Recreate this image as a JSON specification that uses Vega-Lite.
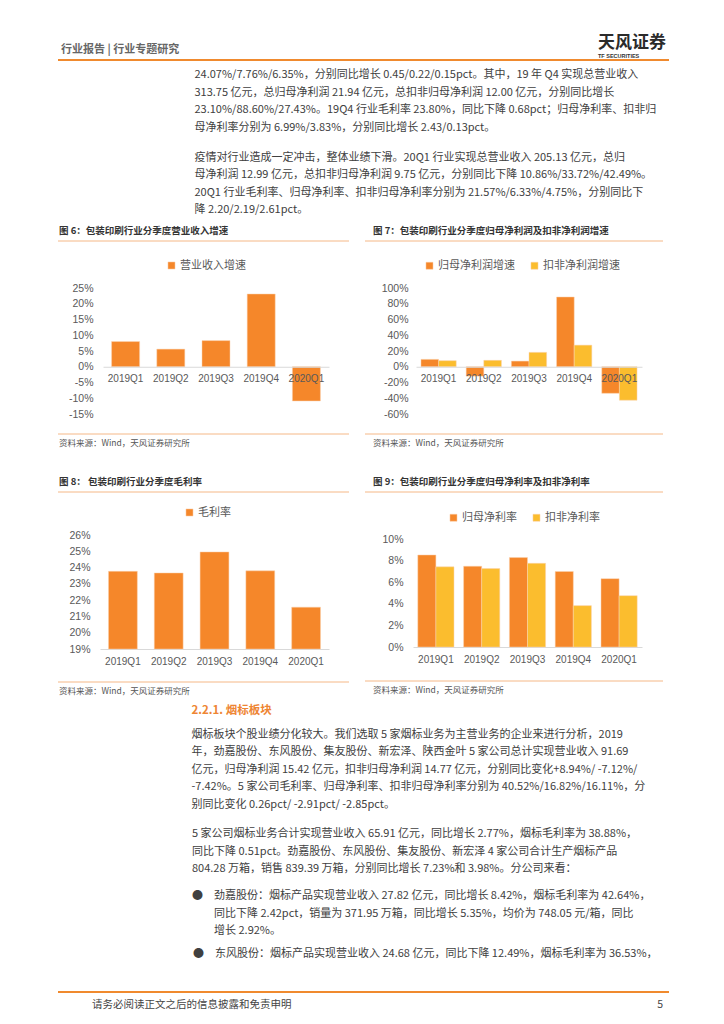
{
  "$schema": "https://vega.github.io/schema/vega-lite/v6.json",
  "padding": {"left": 57, "top": 0, "right": 0, "bottom": 0},
  "background": "white",
  "columns": 1,
  "align": "none",
  "spacing": 8,
  "resolve": {"scale": {"x": "independent", "y": "independent", "color": "independent", "xOffset": "independent"}, "legend": {"color": "independent"}},
  "config": {
    "view": {"stroke": null},
    "font": "Noto Sans CJK SC",
    "axis": {"labelFont": "Liberation Sans", "labelFontSize": 10.5, "labelColor": "#595959", "grid": false, "ticks": false, "tickSize": 0, "domain": false, "title": null},
    "legend": {"orient": "none", "direction": "horizontal", "title": null, "symbolType": "square", "symbolSize": 50, "symbolStrokeWidth": 0, "labelFont": "Noto Sans CJK SC", "labelFontSize": 11, "labelColor": "#595959", "labelOffset": 3, "columnPadding": 14, "padding": 0},
    "bar": {"stroke": "#FBD2B0", "strokeWidth": 0.5}
  },
  "concat": [
    {
      "width": 611,
      "height": 60,
      "data": {"values": [{"left": "行业报告 | 行业专题研究", "logo": "天风证券", "logoEn": "TF SECURITIES"}]},
      "layer": [
        {"mark": {"type": "rule", "color": "#F08A2E", "strokeWidth": 2},
         "encoding": {"y": {"datum": 0, "type": "quantitative", "scale": {"domain": [0, 1]}, "axis": null}}},
        {"mark": {"type": "text", "align": "left", "baseline": "middle", "dx": 3, "dy": -10, "fontSize": 11, "fontWeight": "bold", "color": "#666666"},
         "encoding": {"x": {"datum": 0, "type": "quantitative", "scale": {"domain": [0, 1]}, "axis": null}, "y": {"datum": 0, "type": "quantitative"}, "text": {"field": "left"}}},
        {"mark": {"type": "text", "align": "right", "baseline": "middle", "dx": -3, "dy": -17, "fontSize": 17, "fontWeight": "bold", "color": "#2B2B2B"},
         "encoding": {"x": {"datum": 1, "type": "quantitative"}, "y": {"datum": 0, "type": "quantitative"}, "text": {"field": "logo"}}},
        {"mark": {"type": "text", "align": "left", "baseline": "middle", "dx": -71, "dy": -4, "fontSize": 5.5, "font": "Liberation Sans", "fontWeight": "bold", "color": "#333333"},
         "encoding": {"x": {"datum": 1, "type": "quantitative"}, "y": {"datum": 0, "type": "quantitative"}, "text": {"field": "logoEn"}}}
      ]
    },
    {
      "columns": 1, "align": "none", "spacing": 18,
      "resolve": {"scale": {"x": "independent", "y": "independent", "color": "independent", "xOffset": "independent"}, "legend": {"color": "independent"}},
      "concat": [
        {
          "title": {
            "text": [
              "24.07%/7.76%/6.35%，分别同比增长 0.45/0.22/0.15pct。其中，19 年 Q4 实现总营业收入",
              "313.75 亿元，总归母净利润 21.94 亿元，总扣非归母净利润 12.00 亿元，分别同比增长",
              "23.10%/88.60%/27.43%。19Q4 行业毛利率 23.80%，同比下降 0.68pct；归母净利率、扣非归",
              "母净利率分别为 6.99%/3.83%，分别同比增长 2.43/0.13pct。"
            ],
            "subtitle": [
              "疫情对行业造成一定冲击，整体业绩下滑。20Q1 行业实现总营业收入 205.13 亿元，总归",
              "母净利润 12.99 亿元，总扣非归母净利润 9.75 亿元，分别同比下降 10.86%/33.72%/42.49%。",
              "20Q1 行业毛利率、归母净利率、扣非归母净利率分别为 21.57%/6.33%/4.75%，分别同比下",
              "降 2.20/2.19/2.61pct。"
            ],
            "anchor": "start", "dx": 137, "fontSize": 11, "fontWeight": "normal", "lineHeight": 17.5, "color": "#404040", "font": "Noto Sans CJK SC",
            "subtitleFont": "Noto Sans CJK SC", "subtitleFontSize": 11, "subtitleColor": "#404040", "subtitleLineHeight": 17.5, "subtitlePadding": 19, "offset": 8
          },
          "spacing": 14,
          "resolve": {"scale": {"x": "independent", "y": "independent", "color": "independent", "xOffset": "independent"}, "legend": {"color": "independent"}},
          "hconcat": [
            {
              "columns": 1, "align": "none", "spacing": 18,
              "resolve": {"scale": {"x": "independent", "y": "independent", "color": "independent", "xOffset": "independent"}, "legend": {"color": "independent"}},
              "concat": [
                {
                  "width": 291, "height": 18,
                  "data": {"values": [{"t": "图 6：包装印刷行业分季度营业收入增速"}]},
                  "layer": [
                    {"mark": {"type": "rule", "color": "#F5B887", "strokeWidth": 1},
                     "encoding": {"y": {"datum": 0, "type": "quantitative", "scale": {"domain": [0, 1]}, "axis": null}}},
                    {"mark": {"type": "text", "align": "left", "baseline": "middle", "dx": 1, "dy": 8, "fontSize": 9.5, "fontWeight": "bold", "color": "#333333"},
                     "encoding": {"x": {"datum": 0, "type": "quantitative", "scale": {"domain": [0, 1]}, "axis": null}, "y": {"datum": 1, "type": "quantitative"}, "text": {"field": "t"}}}
                  ]
                },
                {
                  "columns": 1, "align": "none", "spacing": 13,
                  "resolve": {"scale": {"x": "independent", "y": "independent", "color": "independent", "xOffset": "independent"}, "legend": {"color": "independent"}},
                  "concat": [
                    {
                      "width": 291, "height": 126,
                      "data": {"values": [
                        {"quarter": "2019Q1", "series": "营业收入增速", "value": 0.080},
                        {"quarter": "2019Q2", "series": "营业收入增速", "value": 0.056},
                        {"quarter": "2019Q3", "series": "营业收入增速", "value": 0.083},
                        {"quarter": "2019Q4", "series": "营业收入增速", "value": 0.2310},
                        {"quarter": "2020Q1", "series": "营业收入增速", "value": -0.1086}
                      ]},
                      "mark": {"type": "bar"},
                      "encoding": {
                        "x": {"field": "quarter", "type": "nominal", "sort": null, "scale": {"range": [45, 271], "paddingInner": 0.38, "paddingOuter": 0.19},
                              "axis": {"labelAngle": 0, "domain": true, "domainColor": "#D9D9D9", "offset": -47.25, "labelPadding": 7, "labelFontSize": 10, "zindex": 1}},
                        "y": {"field": "value", "type": "quantitative", "scale": {"domain": [-0.15, 0.25], "nice": false, "zero": false},
                              "axis": {"values": [-0.15, -0.1, -0.05, 0, 0.05, 0.1, 0.15, 0.2, 0.25], "format": ".0%", "labelExpr": "replace(datum.label, '−', '-')", "labelPadding": 10, "offset": -45}},
                        "color": {"field": "series", "type": "nominal", "scale": {"domain": ["营业收入增速"], "range": ["#F5872A"]},
                                  "legend": {"legendX": 108, "legendY": -28}}
                      }
                    },
                    {
                      "width": 291, "height": 22,
                      "data": {"values": [{"t": "资料来源：Wind，天风证券研究所"}]},
                      "layer": [
                        {"mark": {"type": "rule", "color": "#F5B887", "strokeWidth": 1},
                         "encoding": {"y": {"datum": 1, "type": "quantitative", "scale": {"domain": [0, 1]}, "axis": null}}},
                        {"mark": {"type": "text", "align": "left", "baseline": "middle", "dx": 1, "dy": 9, "fontSize": 8.5, "color": "#555555"},
                         "encoding": {"x": {"datum": 0, "type": "quantitative", "scale": {"domain": [0, 1]}, "axis": null}, "y": {"datum": 1, "type": "quantitative"}, "text": {"field": "t"}}}
                      ]
                    }
                  ]
                }
              ]
            },
            {
              "columns": 1, "align": "none", "spacing": 18,
              "resolve": {"scale": {"x": "independent", "y": "independent", "color": "independent", "xOffset": "independent"}, "legend": {"color": "independent"}},
              "concat": [
                {
                  "width": 298, "height": 18,
                  "data": {"values": [{"t": "图 7：包装印刷行业分季度归母净利润及扣非净利润增速"}]},
                  "layer": [
                    {"mark": {"type": "rule", "color": "#F5B887", "strokeWidth": 1},
                     "encoding": {"y": {"datum": 0, "type": "quantitative", "scale": {"domain": [0, 1]}, "axis": null}}},
                    {"mark": {"type": "text", "align": "left", "baseline": "middle", "dx": 8, "dy": 8, "fontSize": 9.5, "fontWeight": "bold", "color": "#333333"},
                     "encoding": {"x": {"datum": 0, "type": "quantitative", "scale": {"domain": [0, 1]}, "axis": null}, "y": {"datum": 1, "type": "quantitative"}, "text": {"field": "t"}}}
                  ]
                },
                {
                  "columns": 1, "align": "none", "spacing": 13,
                  "resolve": {"scale": {"x": "independent", "y": "independent", "color": "independent", "xOffset": "independent"}, "legend": {"color": "independent"}},
                  "concat": [
                    {
                      "width": 298, "height": 126,
                      "data": {"values": [
                        {"quarter": "2019Q1", "series": "归母净利润增速", "value": 0.094},
                        {"quarter": "2019Q2", "series": "归母净利润增速", "value": -0.119},
                        {"quarter": "2019Q3", "series": "归母净利润增速", "value": 0.072},
                        {"quarter": "2019Q4", "series": "归母净利润增速", "value": 0.8860},
                        {"quarter": "2020Q1", "series": "归母净利润增速", "value": -0.3372},
                        {"quarter": "2019Q1", "series": "扣非净利润增速", "value": 0.077},
                        {"quarter": "2019Q2", "series": "扣非净利润增速", "value": 0.081},
                        {"quarter": "2019Q3", "series": "扣非净利润增速", "value": 0.183},
                        {"quarter": "2019Q4", "series": "扣非净利润增速", "value": 0.2743},
                        {"quarter": "2020Q1", "series": "扣非净利润增速", "value": -0.4249}
                      ]},
                      "mark": {"type": "bar"},
                      "encoding": {
                        "x": {"field": "quarter", "type": "nominal", "sort": null, "scale": {"range": [51, 277], "paddingInner": 0.22, "paddingOuter": 0.11},
                              "axis": {"labelAngle": 0, "domain": true, "domainColor": "#D9D9D9", "offset": -47.25, "labelPadding": 7, "labelFontSize": 10, "zindex": 1}},
                        "xOffset": {"field": "series", "type": "nominal", "sort": ["归母净利润增速", "扣非净利润增速"], "scale": {"paddingInner": 0}},
                        "y": {"field": "value", "type": "quantitative", "scale": {"domain": [-0.6, 1.0], "nice": false, "zero": false},
                              "axis": {"values": [-0.6, -0.4, -0.2, 0, 0.2, 0.4, 0.6, 0.8, 1.0], "format": ".0%", "labelExpr": "replace(datum.label, '−', '-')", "labelPadding": 8, "offset": -51}},
                        "color": {"field": "series", "type": "nominal", "scale": {"domain": ["归母净利润增速", "扣非净利润增速"], "range": ["#F5872A", "#FBBD2E"]},
                                  "legend": {"legendX": 59, "legendY": -28}}
                      }
                    },
                    {
                      "width": 298, "height": 22,
                      "data": {"values": [{"t": "资料来源：Wind，天风证券研究所"}]},
                      "layer": [
                        {"mark": {"type": "rule", "color": "#F5B887", "strokeWidth": 1},
                         "encoding": {"y": {"datum": 1, "type": "quantitative", "scale": {"domain": [0, 1]}, "axis": null}}},
                        {"mark": {"type": "text", "align": "left", "baseline": "middle", "dx": 8, "dy": 9, "fontSize": 8.5, "color": "#555555"},
                         "encoding": {"x": {"datum": 0, "type": "quantitative", "scale": {"domain": [0, 1]}, "axis": null}, "y": {"datum": 1, "type": "quantitative"}, "text": {"field": "t"}}}
                      ]
                    }
                  ]
                }
              ]
            }
          ]
        },
        {
          "title": {
            "text": "2.2.1. 烟标板块",
            "subtitle": [
              "烟标板块个股业绩分化较大。我们选取 5 家烟标业务为主营业务的企业来进行分析，2019",
              "年，劲嘉股份、东风股份、集友股份、新宏泽、陕西金叶 5 家公司总计实现营业收入 91.69",
              "亿元，归母净利润 15.42 亿元，扣非归母净利润 14.77 亿元，分别同比变化+8.94%/ -7.12%/",
              "-7.42%。5 家公司毛利率、归母净利率、扣非归母净利率分别为 40.52%/16.82%/16.11%，分",
              "别同比变化 0.26pct/ -2.91pct/ -2.85pct。"
            ],
            "orient": "bottom", "anchor": "start", "dx": 134, "fontSize": 11.5, "fontWeight": "bold", "color": "#EE8533", "font": "Noto Sans CJK SC",
            "subtitleFont": "Noto Sans CJK SC", "subtitleFontSize": 11, "subtitleColor": "#404040", "subtitleLineHeight": 17.5, "subtitlePadding": 12, "offset": 8
          },
          "spacing": 14,
          "resolve": {"scale": {"x": "independent", "y": "independent", "color": "independent", "xOffset": "independent"}, "legend": {"color": "independent"}},
          "hconcat": [
            {
              "columns": 1, "align": "none", "spacing": 14,
              "resolve": {"scale": {"x": "independent", "y": "independent", "color": "independent", "xOffset": "independent"}, "legend": {"color": "independent"}},
              "concat": [
                {
                  "width": 291, "height": 18,
                  "data": {"values": [{"t": "图 8：  包装印刷行业分季度毛利率"}]},
                  "layer": [
                    {"mark": {"type": "rule", "color": "#F5B887", "strokeWidth": 1},
                     "encoding": {"y": {"datum": 0, "type": "quantitative", "scale": {"domain": [0, 1]}, "axis": null}}},
                    {"mark": {"type": "text", "align": "left", "baseline": "middle", "dx": 1, "dy": 8, "fontSize": 9.5, "fontWeight": "bold", "color": "#333333"},
                     "encoding": {"x": {"datum": 0, "type": "quantitative", "scale": {"domain": [0, 1]}, "axis": null}, "y": {"datum": 1, "type": "quantitative"}, "text": {"field": "t"}}}
                  ]
                },
                {
                  "columns": 1, "align": "none", "spacing": 15,
                  "resolve": {"scale": {"x": "independent", "y": "independent", "color": "independent", "xOffset": "independent"}, "legend": {"color": "independent"}},
                  "concat": [
                    {
                      "width": 291, "height": 114,
                      "data": {"values": [
                        {"quarter": "2019Q1", "series": "毛利率", "value": 0.2377},
                        {"quarter": "2019Q2", "series": "毛利率", "value": 0.2367},
                        {"quarter": "2019Q3", "series": "毛利率", "value": 0.2496},
                        {"quarter": "2019Q4", "series": "毛利率", "value": 0.2380},
                        {"quarter": "2020Q1", "series": "毛利率", "value": 0.2157}
                      ]},
                      "mark": {"type": "bar"},
                      "encoding": {
                        "x": {"field": "quarter", "type": "nominal", "sort": null, "scale": {"range": [42, 271], "paddingInner": 0.37, "paddingOuter": 0.185},
                              "axis": {"labelAngle": 0, "domain": true, "domainColor": "#D9D9D9", "labelPadding": 7, "labelFontSize": 10}},
                        "y": {"field": "value", "type": "quantitative", "scale": {"domain": [0.19, 0.26], "nice": false, "zero": false, "clamp": true},
                              "axis": {"values": [0.19, 0.2, 0.21, 0.22, 0.23, 0.24, 0.25, 0.26], "format": ".0%", "labelPadding": 10, "offset": -42}},
                        "color": {"field": "series", "type": "nominal", "scale": {"domain": ["毛利率"], "range": ["#F5872A"]},
                                  "legend": {"legendX": 126, "legendY": -28}}
                      }
                    },
                    {
                      "width": 291, "height": 15,
                      "data": {"values": [{"t": "资料来源：Wind，天风证券研究所"}]},
                      "layer": [
                        {"mark": {"type": "rule", "color": "#F5B887", "strokeWidth": 1},
                         "encoding": {"y": {"datum": 1, "type": "quantitative", "scale": {"domain": [0, 1]}, "axis": null}}},
                        {"mark": {"type": "text", "align": "left", "baseline": "middle", "dx": 1, "dy": 9, "fontSize": 8.5, "color": "#555555"},
                         "encoding": {"x": {"datum": 0, "type": "quantitative", "scale": {"domain": [0, 1]}, "axis": null}, "y": {"datum": 1, "type": "quantitative"}, "text": {"field": "t"}}}
                      ]
                    }
                  ]
                }
              ]
            },
            {
              "columns": 1, "align": "none", "spacing": 19,
              "resolve": {"scale": {"x": "independent", "y": "independent", "color": "independent", "xOffset": "independent"}, "legend": {"color": "independent"}},
              "concat": [
                {
                  "width": 298, "height": 18,
                  "data": {"values": [{"t": "图 9：包装印刷行业分季度归母净利率及扣非净利率"}]},
                  "layer": [
                    {"mark": {"type": "rule", "color": "#F5B887", "strokeWidth": 1},
                     "encoding": {"y": {"datum": 0, "type": "quantitative", "scale": {"domain": [0, 1]}, "axis": null}}},
                    {"mark": {"type": "text", "align": "left", "baseline": "middle", "dx": 8, "dy": 8, "fontSize": 9.5, "fontWeight": "bold", "color": "#333333"},
                     "encoding": {"x": {"datum": 0, "type": "quantitative", "scale": {"domain": [0, 1]}, "axis": null}, "y": {"datum": 1, "type": "quantitative"}, "text": {"field": "t"}}}
                  ]
                },
                {
                  "columns": 1, "align": "none", "spacing": 16,
                  "resolve": {"scale": {"x": "independent", "y": "independent", "color": "independent", "xOffset": "independent"}, "legend": {"color": "independent"}},
                  "concat": [
                    {
                      "width": 298, "height": 108,
                      "data": {"values": [
                        {"quarter": "2019Q1", "series": "归母净利率", "value": 0.0852},
                        {"quarter": "2019Q2", "series": "归母净利率", "value": 0.0748},
                        {"quarter": "2019Q3", "series": "归母净利率", "value": 0.0828},
                        {"quarter": "2019Q4", "series": "归母净利率", "value": 0.0699},
                        {"quarter": "2020Q1", "series": "归母净利率", "value": 0.0633},
                        {"quarter": "2019Q1", "series": "扣非净利率", "value": 0.0742},
                        {"quarter": "2019Q2", "series": "扣非净利率", "value": 0.0726},
                        {"quarter": "2019Q3", "series": "扣非净利率", "value": 0.0775},
                        {"quarter": "2019Q4", "series": "扣非净利率", "value": 0.0383},
                        {"quarter": "2020Q1", "series": "扣非净利率", "value": 0.0475}
                      ]},
                      "mark": {"type": "bar"},
                      "encoding": {
                        "x": {"field": "quarter", "type": "nominal", "sort": null, "scale": {"range": [48, 277], "paddingInner": 0.21, "paddingOuter": 0.105},
                              "axis": {"labelAngle": 0, "domain": true, "domainColor": "#D9D9D9", "labelPadding": 7, "labelFontSize": 10}},
                        "xOffset": {"field": "series", "type": "nominal", "sort": ["归母净利率", "扣非净利率"], "scale": {"paddingInner": 0}},
                        "y": {"field": "value", "type": "quantitative", "scale": {"domain": [0, 0.10], "nice": false},
                              "axis": {"values": [0, 0.02, 0.04, 0.06, 0.08, 0.10], "format": ".0%", "labelPadding": 10, "offset": -48}},
                        "color": {"field": "series", "type": "nominal", "scale": {"domain": ["归母净利率", "扣非净利率"], "range": ["#F5872A", "#FBBD2E"]},
                                  "legend": {"legendX": 83, "legendY": -27}}
                      }
                    },
                    {
                      "width": 298, "height": 13,
                      "data": {"values": [{"t": "资料来源：Wind，天风证券研究所"}]},
                      "layer": [
                        {"mark": {"type": "rule", "color": "#F5B887", "strokeWidth": 1},
                         "encoding": {"y": {"datum": 1, "type": "quantitative", "scale": {"domain": [0, 1]}, "axis": null}}},
                        {"mark": {"type": "text", "align": "left", "baseline": "middle", "dx": 8, "dy": 9, "fontSize": 8.5, "color": "#555555"},
                         "encoding": {"x": {"datum": 0, "type": "quantitative", "scale": {"domain": [0, 1]}, "axis": null}, "y": {"datum": 1, "type": "quantitative"}, "text": {"field": "t"}}}
                      ]
                    }
                  ]
                }
              ]
            }
          ]
        },
        {
          "width": 611, "height": 50,
          "title": {
            "text": [
              "5 家公司烟标业务合计实现营业收入 65.91 亿元，同比增长 2.77%，烟标毛利率为 38.88%，",
              "同比下降 0.51pct。劲嘉股份、东风股份、集友股份、新宏泽 4 家公司合计生产烟标产品",
              "804.28 万箱，销售 839.39 万箱，分别同比增长 7.23%和 3.98%。分公司来看："
            ],
            "subtitle": [
              "●　劲嘉股份：烟标产品实现营业收入 27.82 亿元，同比增长 8.42%，烟标毛利率为 42.64%，",
              "\u200b　　同比下降 2.42pct，销量为 371.95 万箱，同比增长 5.35%，均价为 748.05 元/箱，同比",
              "\u200b　　增长 2.92%。"
            ],
            "anchor": "start", "dx": 135, "fontSize": 11, "fontWeight": "normal", "lineHeight": 17.5, "color": "#404040", "font": "Noto Sans CJK SC",
            "subtitleFont": "Noto Sans CJK SC", "subtitleFontSize": 11, "subtitleColor": "#404040", "subtitleLineHeight": 17.5, "subtitlePadding": 16, "offset": 6
          },
          "data": {"values": [{"bullet": "●　东风股份：烟标产品实现营业收入 24.68 亿元，同比下降 12.49%，烟标毛利率为 36.53%，", "foot": "请务必阅读正文之后的信息披露和免责申明", "page": "5"}]},
          "layer": [
            {"mark": {"type": "rule", "color": "#F08A2E", "strokeWidth": 2},
             "encoding": {"y": {"datum": 0, "type": "quantitative", "scale": {"domain": [0, 1]}, "axis": null}}},
            {"mark": {"type": "text", "align": "left", "baseline": "middle", "dx": 135, "dy": 12, "fontSize": 11, "color": "#404040"},
             "encoding": {"x": {"datum": 0, "type": "quantitative", "scale": {"domain": [0, 1]}, "axis": null}, "y": {"datum": 1, "type": "quantitative"}, "text": {"field": "bullet"}}},
            {"mark": {"type": "text", "align": "left", "baseline": "middle", "dx": 34, "dy": 13, "fontSize": 10.5, "color": "#444444"},
             "encoding": {"x": {"datum": 0, "type": "quantitative"}, "y": {"datum": 0, "type": "quantitative"}, "text": {"field": "foot"}}},
            {"mark": {"type": "text", "align": "right", "baseline": "middle", "dx": -6, "dy": 13, "fontSize": 10.5, "color": "#444444"},
             "encoding": {"x": {"datum": 1, "type": "quantitative"}, "y": {"datum": 0, "type": "quantitative"}, "text": {"field": "page"}}}
          ]
        }
      ]
    }
  ]
}
